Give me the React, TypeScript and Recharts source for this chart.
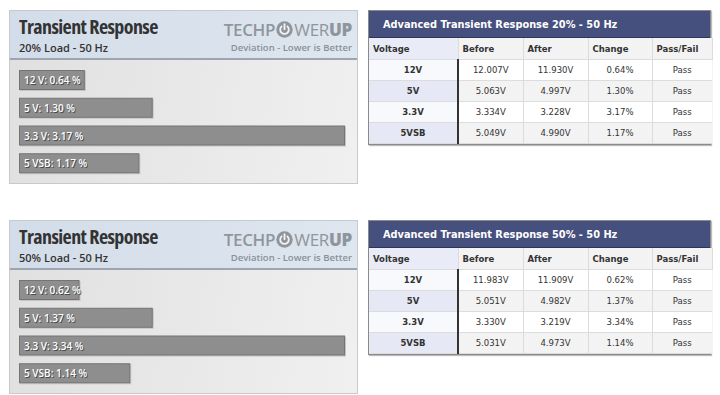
import React from "react";
import { BarChart, Bar, XAxis, YAxis } from "recharts";

const railLabels = ["12 V", "5 V", "3.3 V", "5 VSB"];
const tableRails = ["12V", "5V", "3.3V", "5VSB"];
const loadLevels = ["20%", "50%"];

const deviation20 = [0.64, 1.3, 3.17, 1.17];
const before20 = [12.007, 5.063, 3.334, 5.049];
const after20 = [11.93, 4.997, 3.228, 4.99];
const result20 = ["Pass", "Pass", "Pass", "Pass"];

const deviation50 = [0.62, 1.37, 3.34, 1.14];
const before50 = [11.983, 5.051, 3.33, 5.031];
const after50 = [11.909, 4.982, 3.219, 4.973];
const result50 = ["Pass", "Pass", "Pass", "Pass"];

const tableHeaders = ["Voltage", "Before", "After", "Change", "Pass/Fail"];
const colWidths = [89, 65, 65, 64, 60];

const panels = [
  { load: loadLevels[0], dev: deviation20, before: before20, after: after20, result: result20, top: 10 },
  { load: loadLevels[1], dev: deviation50, before: before50, after: after50, result: result50, top: 220 },
];

const BarLabel = (props: any) => {
  const { x, y, height, index, data } = props;
  const txt = `${railLabels[index]}: ${data[index].value.toFixed(2)} %`;
  const cy = y + height / 2;
  return (
    <g style={{ fontFamily: "'Open Sans', sans-serif", fontSize: 10, fontWeight: 600 }}>
      <text x={x + 6} y={cy + 1} dominantBaseline="central" fill="#4a4a4a">{txt}</text>
      <text x={x + 5} y={cy} dominantBaseline="central" fill="#ffffff">{txt}</text>
    </g>
  );
};

const BarShape = (props: any) => {
  const { x, y, width, height } = props;
  return (
    <g>
      <rect x={x + 1} y={y + 1} width={width} height={height} fill="#c4c4c4" />
      <rect x={x + 0.5} y={y + 0.5} width={width - 1} height={height - 1} fill="#8e8e8e" stroke="#747474" />
    </g>
  );
};

function PowerIcon() {
  return (
    <svg width="17" height="17" viewBox="0 0 17 17" style={{ verticalAlign: "-2px", margin: "0 1px" }}>
      <circle cx="8.5" cy="8.5" r="8.2" fill="#8f959c" />
      <path d="M5.6 5.4 A4.3 4.3 0 1 0 11.4 5.4" fill="none" stroke="#f2f4f6" strokeWidth="1.8" strokeLinecap="round" />
      <line x1="8.5" y1="3.2" x2="8.5" y2="8.2" stroke="#f2f4f6" strokeWidth="1.8" strokeLinecap="round" />
    </svg>
  );
}

function ChartPanel({ load, dev, top }: any) {
  const data = dev.map((v: number, i: number) => ({ name: railLabels[i], value: v }));
  return (
    <div style={{ position: "absolute", left: 9, top, width: 347, height: 172, border: "1px solid #c6c9cd", background: "#e8e8e8" }}>
      <div style={{ position: "relative", height: 47, background: "linear-gradient(90deg,#d3dde9,#dee6ef)", borderBottom: "2px solid #9ca5b1" }}>
        <div style={{ position: "absolute", left: 9, top: 6, lineHeight: "20px", fontFamily: "'Open Sans', sans-serif", fontStretch: "condensed", fontWeight: 700, fontSize: 20, color: "#333", letterSpacing: -0.6, whiteSpace: "nowrap" }}>
          Transient Response
        </div>
        <div style={{ position: "absolute", left: 9, top: 31, lineHeight: "12px", fontFamily: "'Open Sans', sans-serif", fontWeight: 600, fontSize: 11, color: "#333", whiteSpace: "nowrap" }}>
          {load} Load - 50 Hz
        </div>
        <div style={{ position: "absolute", right: 5, top: 7, fontFamily: "'Open Sans', sans-serif", fontSize: 17, color: "#8f959c", whiteSpace: "nowrap", letterSpacing: -0.3 }}>
          <span style={{ fontWeight: 600 }}>TECHP</span>
          <PowerIcon />
          <span style={{ fontWeight: 400 }}>WER</span>
          <span style={{ fontWeight: 800 }}>UP</span>
        </div>
        <div style={{ position: "absolute", right: 5, top: 30, fontFamily: "'Open Sans', sans-serif", fontWeight: 600, fontSize: 9.5, color: "#8a9098", whiteSpace: "nowrap" }}>
          Deviation - Lower is Better
        </div>
      </div>
      <div style={{ background: "linear-gradient(100deg,#e0e0e0,#f0f0f0)", height: 123 }}>
        <BarChart width={347} height={123} data={data} layout="vertical" margin={{ top: 6, right: 12, bottom: 6, left: 9 }} barCategoryGap={0}>
          <XAxis type="number" hide domain={[0, "dataMax"]} />
          <YAxis type="category" dataKey="name" hide />
          <Bar dataKey="value" barSize={20} isAnimationActive={false} shape={<BarShape />} label={<BarLabel data={data} />} />
        </BarChart>
      </div>
    </div>
  );
}

function TablePanel({ load, dev, before, after, result, top }: any) {
  const font = "'DejaVu Sans', Verdana, sans-serif";
  const cellBase: React.CSSProperties = { height: 20, padding: 0, borderRight: "1px solid #dcdcdc", borderBottom: "1px solid #dcdcdc", fontFamily: font, fontSize: 8.5, color: "#333", textAlign: "center" };
  return (
    <div style={{ position: "absolute", left: 368, top, width: 341, border: "1px solid #8a8a8a", boxShadow: "1px 1px 1px #bbb", background: "#fff" }}>
      <div style={{ height: 26, background: "#46507e", color: "#fff", fontFamily: font, fontWeight: 700, fontSize: 9.8, lineHeight: "27px", paddingLeft: 14, borderBottom: "1px solid #2e355a" }}>
        Advanced Transient Response {load} - 50 Hz
      </div>
      <table style={{ borderCollapse: "collapse", tableLayout: "fixed", width: 341 }}>
        <colgroup>
          {colWidths.map((w, i) => <col key={i} style={{ width: w }} />)}
        </colgroup>
        <thead>
          <tr>
            {tableHeaders.map((h, i) => (
              <th key={h} style={{ ...cellBase, height: 21, textAlign: "left", paddingLeft: 4, fontWeight: 700, background: i === 0 ? "#e9ecf7" : "#f3f3f3" }}>{h}</th>
            ))}
          </tr>
        </thead>
        <tbody>
          {tableRails.map((r, i) => {
            const alt = i % 2 === 1;
            const bg = alt ? "#f3f3f3" : "#ffffff";
            return (
              <tr key={r}>
                <td style={{ ...cellBase, fontWeight: 700, background: alt ? "#e6e9f5" : "#f8f9fd", borderRight: "2px solid #333" }}>{r}</td>
                <td style={{ ...cellBase, background: bg }}>{before[i].toFixed(3)}V</td>
                <td style={{ ...cellBase, background: bg }}>{after[i].toFixed(3)}V</td>
                <td style={{ ...cellBase, background: bg }}>{dev[i].toFixed(2)}%</td>
                <td style={{ ...cellBase, background: bg, borderRight: "none" }}>{result[i]}</td>
              </tr>
            );
          })}
        </tbody>
      </table>
    </div>
  );
}

export default function App() {
  return (
    <div style={{ position: "absolute", left: 0, top: 0, width: 720, height: 395, background: "#fff", overflow: "hidden" }}>
      {panels.map((p) => (
        <React.Fragment key={p.load}>
          <ChartPanel {...p} />
          <TablePanel {...p} />
        </React.Fragment>
      ))}
    </div>
  );
}
